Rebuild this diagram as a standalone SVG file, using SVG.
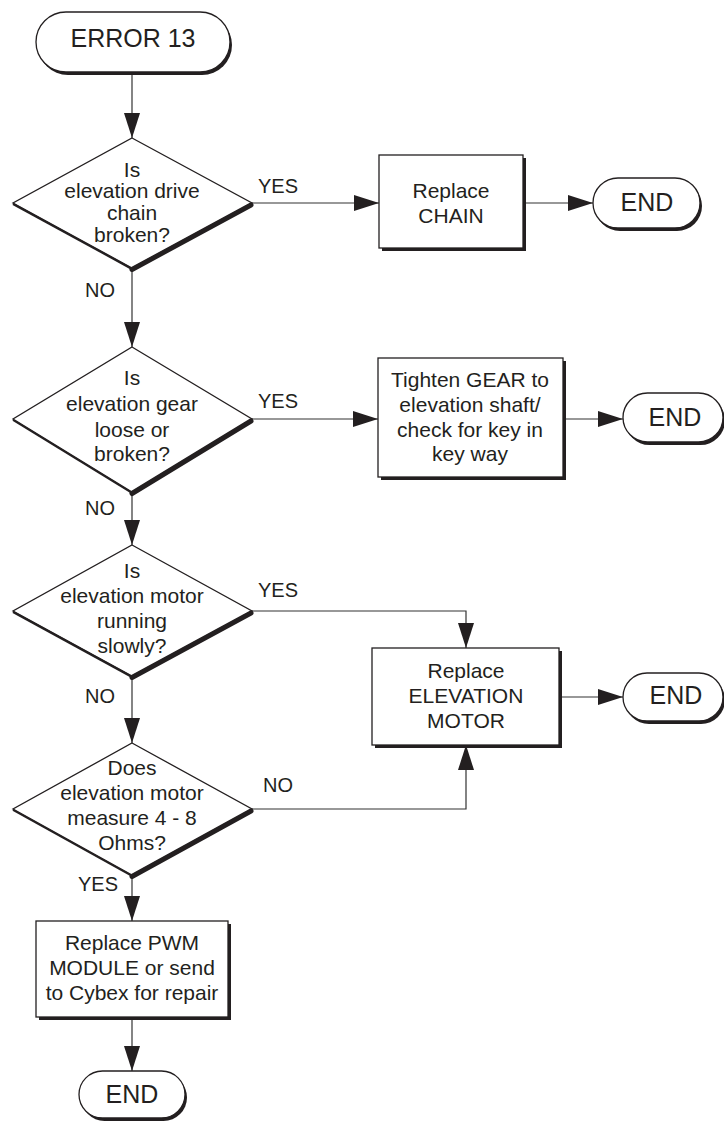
<svg xmlns="http://www.w3.org/2000/svg" width="724" height="1121" viewBox="0 0 724 1121">
  <style>
    text { font-family: "Liberation Sans", Arial, sans-serif; fill: #231f20; text-anchor: middle; }
    .t { font-size: 21px; }
    .big { font-size: 25px; }
    .lbl { font-size: 20px; text-anchor: start; }
    .shape { fill: #ffffff; stroke: #231f20; stroke-width: 1.3; }
    .shadow { fill: #231f20; }
    .edgeR { stroke: #231f20; stroke-width: 5; stroke-linecap: round; }
    .edgeL { stroke: #231f20; stroke-width: 2; }
    .conn { fill: none; stroke: #333333; stroke-width: 1.2; marker-end: url(#arrow); }
  </style>
  <defs>
    <marker id="arrow" markerUnits="userSpaceOnUse" markerWidth="26" markerHeight="18" refX="25" refY="8" orient="auto">
      <path d="M0,0 L25,8 L0,16 Z" fill="#231f20"/>
    </marker>
  </defs>

  <rect width="724" height="1121" fill="#ffffff"/>

  <!-- connectors -->
  <g id="connectors">
    <path class="conn" d="M132,72 V138"/>
    <path class="conn" d="M252,203 H379"/>
    <path class="conn" d="M523,203 H593"/>
    <path class="conn" d="M132,268 V347"/>
    <path class="conn" d="M252,419 H378"/>
    <path class="conn" d="M563,419 H623"/>
    <path class="conn" d="M132,492 V545"/>
    <path class="conn" d="M252,611 H466 V648"/>
    <path class="conn" d="M559,697 H623"/>
    <path class="conn" d="M132,676 V743"/>
    <path class="conn" d="M252,809 H466 V745"/>
    <path class="conn" d="M132,875 V921"/>
    <path class="conn" d="M132,1017 V1071"/>
    <text class="lbl" x="258" y="193">YES</text>
    <text class="lbl" x="85" y="297">NO</text>
    <text class="lbl" x="258" y="408">YES</text>
    <text class="lbl" x="85" y="515">NO</text>
    <text class="lbl" x="258" y="597">YES</text>
    <text class="lbl" x="85" y="703">NO</text>
    <text class="lbl" x="263" y="792">NO</text>
    <text class="lbl" x="78" y="891">YES</text>
  </g>

  <!-- start terminator -->
  <g id="start">
    <rect class="shadow" x="38" y="15" width="194" height="60" rx="30"/>
    <rect class="shape" x="36" y="12" width="194" height="60" rx="30"/>
    <text class="big" x="133" y="47">ERROR 13</text>
  </g>

  <!-- decision: chain -->
  <g id="q-chain">
    <polygon class="shape" points="132,138 252,203 132,268 13,203"/>
    <line class="edgeL" x1="13" y1="204" x2="132" y2="269"/>
    <line class="edgeR" x1="132" y1="269.5" x2="251" y2="205"/>
    <text class="t" x="132" y="177">Is</text>
    <text class="t" x="132" y="198">elevation drive</text>
    <text class="t" x="132" y="220">chain</text>
    <text class="t" x="132" y="242">broken?</text>
  </g>

  <g id="fix-chain">
    <rect class="shadow" x="382" y="158" width="144" height="93"/>
    <rect class="shape" x="379" y="155" width="144" height="93"/>
    <text class="t" x="451" y="198">Replace</text>
    <text class="t" x="451" y="223">CHAIN</text>
  </g>

  <g id="end-1">
    <rect class="shadow" x="595" y="181" width="107" height="50" rx="25"/>
    <rect class="shape" x="593" y="178" width="107" height="50" rx="25"/>
    <text class="big" x="647" y="211">END</text>
  </g>

  <!-- decision: gear -->
  <g id="q-gear">
    <polygon class="shape" points="132,347 252,419 132,492 13,419"/>
    <line class="edgeL" x1="13" y1="420" x2="132" y2="493"/>
    <line class="edgeR" x1="132" y1="493.5" x2="251" y2="421"/>
    <text class="t" x="132" y="385">Is</text>
    <text class="t" x="132" y="411">elevation gear</text>
    <text class="t" x="132" y="437">loose or</text>
    <text class="t" x="132" y="461">broken?</text>
  </g>

  <g id="fix-gear">
    <rect class="shadow" x="381" y="361" width="185" height="119"/>
    <rect class="shape" x="378" y="358" width="185" height="119"/>
    <text class="t" x="470" y="387">Tighten GEAR to</text>
    <text class="t" x="470" y="412">elevation shaft/</text>
    <text class="t" x="470" y="437">check for key in</text>
    <text class="t" x="470" y="461">key way</text>
  </g>

  <g id="end-2">
    <rect class="shadow" x="625" y="396" width="100" height="49" rx="24.5"/>
    <rect class="shape" x="623" y="393" width="100" height="49" rx="24.5"/>
    <text class="big" x="675" y="426">END</text>
  </g>

  <!-- decision: motor speed -->
  <g id="q-slow">
    <polygon class="shape" points="132,545 252,611 132,676 13,611"/>
    <line class="edgeL" x1="13" y1="612" x2="132" y2="677"/>
    <line class="edgeR" x1="132" y1="677.5" x2="251" y2="613"/>
    <text class="t" x="132" y="578">Is</text>
    <text class="t" x="132" y="603">elevation motor</text>
    <text class="t" x="132" y="628">running</text>
    <text class="t" x="132" y="653">slowly?</text>
  </g>

  <g id="fix-motor">
    <rect class="shadow" x="375" y="651" width="187" height="97"/>
    <rect class="shape" x="372" y="648" width="187" height="97"/>
    <text class="t" x="466" y="678">Replace</text>
    <text class="t" x="466" y="703">ELEVATION</text>
    <text class="t" x="466" y="728">MOTOR</text>
  </g>

  <g id="end-3">
    <rect class="shadow" x="625" y="676" width="100" height="48" rx="24"/>
    <rect class="shape" x="623" y="673" width="100" height="48" rx="24"/>
    <text class="big" x="676" y="704">END</text>
  </g>

  <!-- decision: motor resistance -->
  <g id="q-ohms">
    <polygon class="shape" points="132,743 252,809 132,875 13,809"/>
    <line class="edgeL" x1="13" y1="810" x2="132" y2="876"/>
    <line class="edgeR" x1="132" y1="876.5" x2="251" y2="811"/>
    <text class="t" x="132" y="775">Does</text>
    <text class="t" x="132" y="800">elevation motor</text>
    <text class="t" x="132" y="825">measure 4 - 8</text>
    <text class="t" x="132" y="850">Ohms?</text>
  </g>

  <g id="fix-pwm">
    <rect class="shadow" x="39" y="924" width="192" height="96"/>
    <rect class="shape" x="36" y="921" width="192" height="96"/>
    <text class="t" x="132" y="950">Replace PWM</text>
    <text class="t" x="132" y="975">MODULE or send</text>
    <text class="t" x="132" y="1000">to Cybex for repair</text>
  </g>

  <g id="end-4">
    <rect class="shadow" x="81" y="1074" width="106" height="47" rx="23.5"/>
    <rect class="shape" x="79" y="1071" width="106" height="47" rx="23.5"/>
    <text class="big" x="132" y="1103">END</text>
  </g>
</svg>
